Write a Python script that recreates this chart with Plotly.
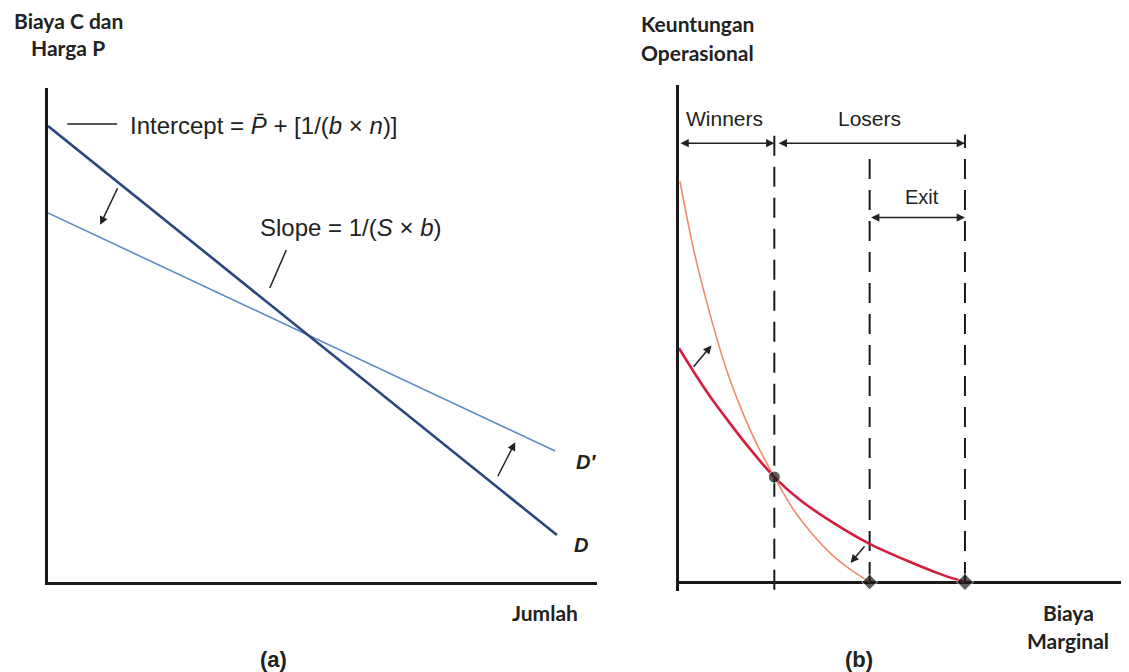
import plotly.graph_objects as go

# ---------------- data ----------------
# Panel (a): demand curves (quantity, price)
demand_q = [0, 9.27]
demand_p = [9.23, 0.95]
demand_new_q = [0, 9.24]
demand_new_p = [7.47, 2.65]

# Panel (b): operating profit vs marginal cost
cost_old = [0, 0.15, 0.33, 0.5, 0.7, 1.0, 1.27, 1.62, 2.0, 2.4, 2.75, 3.0]
profit_old = [2.45, 2.21, 1.94, 1.71, 1.45, 1.10, 0.86, 0.62, 0.40, 0.22, 0.08, 0.0]
cost_new = [0.01, 0.15, 0.3, 0.5, 0.7, 0.85, 1.0, 1.2, 1.4, 1.6, 1.8, 2.0]
profit_new = [4.2, 3.5, 2.9, 2.22, 1.7, 1.38, 1.10, 0.76, 0.5, 0.29, 0.13, 0.0]

c_bar = 1.0          # winners / losers boundary
c_star_new = 2.0     # c*'
c_star = 3.0         # c*
cross_profit = 1.10

# ---------------- figure ----------------
W, H, OFF = 1121, 664, 8   # page has an 8px body margin
fig = go.Figure()
TXT = "#222222"
FONT = "Liberation Sans, Arial, sans-serif"
BOLD = "Lato, Calibri, sans-serif"

def px_x(p):
    return (p - OFF) / W

def px_y(p):
    return 1 - (p - OFF) / H

# Panel (a)
fig.add_trace(go.Scatter(x=demand_new_q, y=demand_new_p, mode="lines",
                         line=dict(color="#5b8cc6", width=1.6), xaxis="x", yaxis="y"))
fig.add_trace(go.Scatter(x=demand_q, y=demand_p, mode="lines",
                         line=dict(color="#28477d", width=2.6), xaxis="x", yaxis="y"))
# pointer lines
fig.add_trace(go.Scatter(x=[0.35, 1.26], y=[9.27, 9.27], mode="lines",
                         line=dict(color=TXT, width=1.5), xaxis="x", yaxis="y"))
fig.add_trace(go.Scatter(x=[4.34, 4.04], y=[6.72, 5.95], mode="lines",
                         line=dict(color=TXT, width=1.5), xaxis="x", yaxis="y"))

# Panel (b)
for xc, ybot, ytop in [(c_bar, -0.08, 4.69), (c_star_new, 0, 4.53), (c_star, 0, 4.69)]:
    fig.add_trace(go.Scatter(x=[xc, xc], y=[ybot, ytop], mode="lines",
                             line=dict(color="#1a1a1a", width=2, dash="20px,11px"),
                             xaxis="x2", yaxis="y2"))
fig.add_trace(go.Scatter(x=cost_new, y=profit_new, mode="lines", line_shape="spline",
                         line=dict(color="#f08a6c", width=1.6, smoothing=0.8),
                         xaxis="x2", yaxis="y2"))
fig.add_trace(go.Scatter(x=cost_old, y=profit_old, mode="lines", line_shape="spline",
                         line=dict(color="#d11f3c", width=2.6, smoothing=0.8),
                         xaxis="x2", yaxis="y2"))
fig.add_trace(go.Scatter(x=[c_bar, c_star_new, c_star], y=[cross_profit, 0, 0], mode="markers",
                         marker=dict(color="#1a1a1a", size=[12, 12, 13],
                                     symbol=["circle", "diamond", "diamond"]),
                         cliponaxis=False, xaxis="x2", yaxis="y2"))

ann = []

def arrow(x, y, ax, ay, xr, yr, both=False, width=1.5, head=2):
    ann.append(dict(x=x, y=y, ax=ax, ay=ay, xref=xr, yref=yr, axref=xr, ayref=yr,
                    text="", showarrow=True, arrowhead=head, arrowsize=1.1,
                    arrowwidth=width, arrowcolor=TXT,
                    arrowside="end+start" if both else "end"))

def text(x, y, s, xr, yr, size=20, xanchor="center", family=FONT, color=TXT):
    ann.append(dict(x=x, y=y, xref=xr, yref=yr, text=s, showarrow=False,
                    xanchor=xanchor, yanchor="middle",
                    font=dict(family=family, size=size, color=color)))

# panel (a) arrows & texts
arrow(0.95, 7.23, 1.28, 8.0, "x", "y")
arrow(8.51, 2.83, 8.18, 2.11, "x", "y")
text(1.46, 9.24, "Intercept = <i>P̄</i> + [1/(<i>b</i> × <i>n</i>)]", "x", "y", size=24, xanchor="left")
text(3.83, 7.17, "Slope = 1/(<i>S</i> × <i>b</i>)", "x", "y", size=24, xanchor="left")
text(9.58, 2.43, "<b><i>D′</i></b>", "x", "y", size=20, xanchor="left")
text(9.54, 0.75, "<b><i>D</i></b>", "x", "y", size=20, xanchor="left")

# panel (b) arrows & texts
arrow(c_bar, 4.6, 0, 4.6, "x2", "y2", both=True)
arrow(c_star, 4.6, c_bar + 0.03, 4.6, "x2", "y2", both=True)
arrow(c_star, 3.82, c_star_new, 3.82, "x2", "y2", both=True)
arrow(0.34, 2.48, 0.14, 2.24, "x2", "y2")
arrow(1.8, 0.2, 1.96, 0.39, "x2", "y2")
text(0.48, 4.86, "Winners", "x2", "y2", size=21)
text(2.0, 4.86, "Losers", "x2", "y2", size=21)
text(2.55, 4.04, "Exit", "x2", "y2", size=20)
text(c_star_new, -0.34, "<b><i>c*′</i></b>", "x2", "y2", size=18)
text(c_star, -0.34, "<b><i>c*</i></b>", "x2", "y2", size=18)

# axis titles & panel labels (paper coordinates)
def ptext(px, py, s, size=21, xanchor="center", family=BOLD):
    text(px_x(px), px_y(py), s, "paper", "paper", size=size, xanchor=xanchor, family=family)

ptext(68, 20, "<b>Biaya C dan</b>")
ptext(68, 48, "<b>Harga P</b>")
ptext(639, 24, "<b>Keuntungan</b>", xanchor="left")
ptext(639, 52, "<b>Operasional</b>", xanchor="left")
ptext(545, 612, "<b>Jumlah</b>")
ptext(1068, 612, "<b>Biaya</b>")
ptext(1068, 640, "<b>Marginal</b>")
ptext(273, 659, "<b>(a)</b>", size=22, family=FONT)
ptext(859, 659, "<b>(b)</b>", size=22, family=FONT)

axis_common = dict(showgrid=False, showticklabels=False, ticks="", zeroline=False)
fig.update_layout(
    width=W, height=H, showlegend=False,
    paper_bgcolor="white", plot_bgcolor="white",
    margin=dict(l=0, r=0, t=0, b=0),
    annotations=ann,
    xaxis=dict(domain=[px_x(48), px_x(597)], range=[0, 10], showline=True,
               linecolor="#1a1a1a", linewidth=2.5, **axis_common),
    yaxis=dict(domain=[px_y(582), px_y(88)], range=[0, 10], showline=True,
               linecolor="#1a1a1a", linewidth=2.5, **axis_common),
    xaxis2=dict(domain=[px_x(679), px_x(1127)], range=[0, 4.7], showline=False,
                anchor="y2", **axis_common),
    yaxis2=dict(domain=[px_y(590.6), px_y(85)], range=[-0.09, 5.21], showline=True,
                linecolor="#1a1a1a", linewidth=2.5, anchor="x2",
                showgrid=False, showticklabels=False, ticks="",
                zeroline=True, zerolinecolor="#1a1a1a", zerolinewidth=2.5),
)

fig.write_html("out.html")
